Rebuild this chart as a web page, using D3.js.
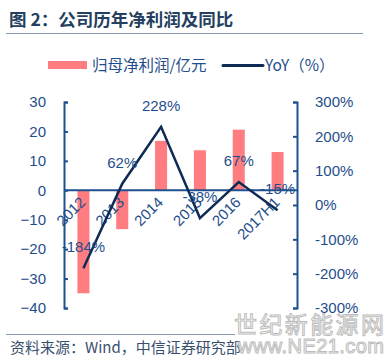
<!DOCTYPE html>
<html><head><meta charset="utf-8">
<script src="https://cdn.jsdelivr.net/npm/d3@7/dist/d3.min.js"></script>
<style>
html,body{margin:0;padding:0;background:#fff;}
svg{display:block;}
</style></head>
<body>
<svg id="chart" width="391" height="361"></svg>
<script>
const categories = ["2012","2013","2014","2015","2016","2017H1"];
const profit = [-35, -13.2, 16.8, 13.6, 20.6, 13.0];
const yoy = [-184, 62, 228, -38, 67, -15];
const yoyLabels = ["-184%","62%","228%","-38%","67%","-15%"];
const leftTicks = [30,20,10,0,-10,-20,-30,-40];
const rightTicks = [300,200,100,0,-100,-200,-300];

const cjk = "'Noto Sans CJK SC', 'Liberation Sans', Arial, sans-serif";
const lat = "'Liberation Sans', Arial, 'Noto Sans CJK SC', sans-serif";
const textBlue = "#1f4e8c";
const axisBlue = "#1f5090";
const lineNavy = "#0d2b55";
const barPink = "#ff7c80";

const svg = d3.select("#chart");

// Title
svg.append("text").attr("x", 9).attr("y", 26)
  .attr("font-family", cjk).attr("font-size", 17.5).attr("font-weight", "bold")
  .attr("fill", "#243f60").text("图 2：公司历年净利润及同比");
svg.append("line").attr("x1", 6).attr("x2", 363).attr("y1", 33.5).attr("y2", 33.5)
  .attr("stroke", "#8497b0").attr("stroke-width", 1);

// Legend
svg.append("rect").attr("x", 48).attr("y", 61).attr("width", 39).attr("height", 8).attr("fill", barPink);
svg.append("text").attr("x", 92).attr("y", 70.5).attr("font-family", cjk).attr("font-size", 15.5)
  .attr("fill", textBlue).text("归母净利润/亿元");
svg.append("line").attr("x1", 223).attr("x2", 263).attr("y1", 65.5).attr("y2", 65.5)
  .attr("stroke", lineNavy).attr("stroke-width", 3).attr("stroke-linecap", "round");
svg.append("text").attr("x", 265).attr("y", 71).attr("font-family", cjk).attr("font-size", 15.5)
  .attr("fill", textBlue).text("YoY（%）");

// Scales
const x = d3.scaleBand().domain(categories).range([64, 297]).paddingInner(0.69).paddingOuter(0.345);
const yL = d3.scaleLinear().domain([-40, 30]).range([308, 102]);
const yR = d3.scaleLinear().domain([-300, 300]).range([308, 102]);

// Bars
svg.append("g").selectAll("rect").data(categories).join("rect")
  .attr("x", d => x(d))
  .attr("width", x.bandwidth())
  .attr("y", (d, i) => Math.min(yL(profit[i]), yL(0)))
  .attr("height", (d, i) => Math.abs(yL(profit[i]) - yL(0)))
  .attr("fill", barPink);

// Zero baseline
svg.append("line").attr("x1", 64).attr("x2", 297).attr("y1", yL(0)).attr("y2", yL(0))
  .attr("stroke", axisBlue).attr("stroke-width", 2);

// Left axis
const gL = svg.append("g").attr("transform", "translate(64,0)")
  .call(d3.axisLeft(yL).tickValues(leftTicks).tickSize(-4).tickPadding(18).tickSizeOuter(-4).tickFormat(d3.format("d")));
gL.select(".domain").attr("stroke", axisBlue).attr("stroke-width", 2);
gL.selectAll(".tick line").attr("stroke", axisBlue).attr("stroke-width", 2);
gL.selectAll(".tick text").attr("fill", textBlue).attr("font-family", lat).attr("font-size", 15);

// Right axis
const gR = svg.append("g").attr("transform", "translate(297,0)")
  .call(d3.axisRight(yR).tickValues(rightTicks).tickSize(-4).tickPadding(18).tickSizeOuter(-4).tickFormat(d => d + "%"));
gR.select(".domain").attr("stroke", axisBlue).attr("stroke-width", 2);
gR.selectAll(".tick line").attr("stroke", axisBlue).attr("stroke-width", 2);
gR.selectAll(".tick text").attr("fill", textBlue).attr("font-family", lat).attr("font-size", 15);

// X category labels
svg.append("g").selectAll("text").data(categories).join("text")
  .attr("transform", d => `translate(${x(d) + x.bandwidth() / 2 + 3},${yL(0) + 13}) rotate(-45)`)
  .attr("text-anchor", "end")
  .attr("font-family", lat).attr("font-size", 15).attr("fill", textBlue)
  .text(d => d);

// YoY line
const line = d3.line()
  .x((d, i) => x(categories[i]) + x.bandwidth() / 2)
  .y(d => yR(d));
svg.append("path").datum(yoy).attr("d", line)
  .attr("fill", "none").attr("stroke", lineNavy).attr("stroke-width", 2.5);

// YoY labels
svg.append("g").selectAll("text").data(yoy).join("text")
  .attr("x", (d, i) => x(categories[i]) + x.bandwidth() / 2)
  .attr("y", d => yR(d) - 16)
  .attr("text-anchor", "middle")
  .attr("font-family", lat).attr("font-size", 15).attr("fill", textBlue)
  .text((d, i) => yoyLabels[i]);

// Footer
svg.append("line").attr("x1", 6).attr("x2", 235).attr("y1", 334.5).attr("y2", 334.5)
  .attr("stroke", "#8497b0").attr("stroke-width", 1);
svg.append("text").attr("x", 10).attr("y", 353).attr("font-family", cjk).attr("font-size", 15)
  .attr("fill", "#3a4f6e").text("资料来源：Wind，中信证券研究部");

// Watermark
svg.append("text").attr("x", 234).attr("y", 333).attr("font-family", cjk).attr("font-size", 23)
  .attr("fill", "#ffffff").attr("stroke", "#bdbdbd").attr("stroke-width", 1)
  .attr("textLength", 150).text("世纪新能源网");
svg.append("text").attr("x", 238).attr("y", 353).attr("font-family", lat).attr("font-size", 20)
  .attr("fill", "#ffffff").attr("stroke", "#bdbdbd").attr("stroke-width", 1)
  .attr("textLength", 146).text("www.NE21.com");
</script>
</body></html>
